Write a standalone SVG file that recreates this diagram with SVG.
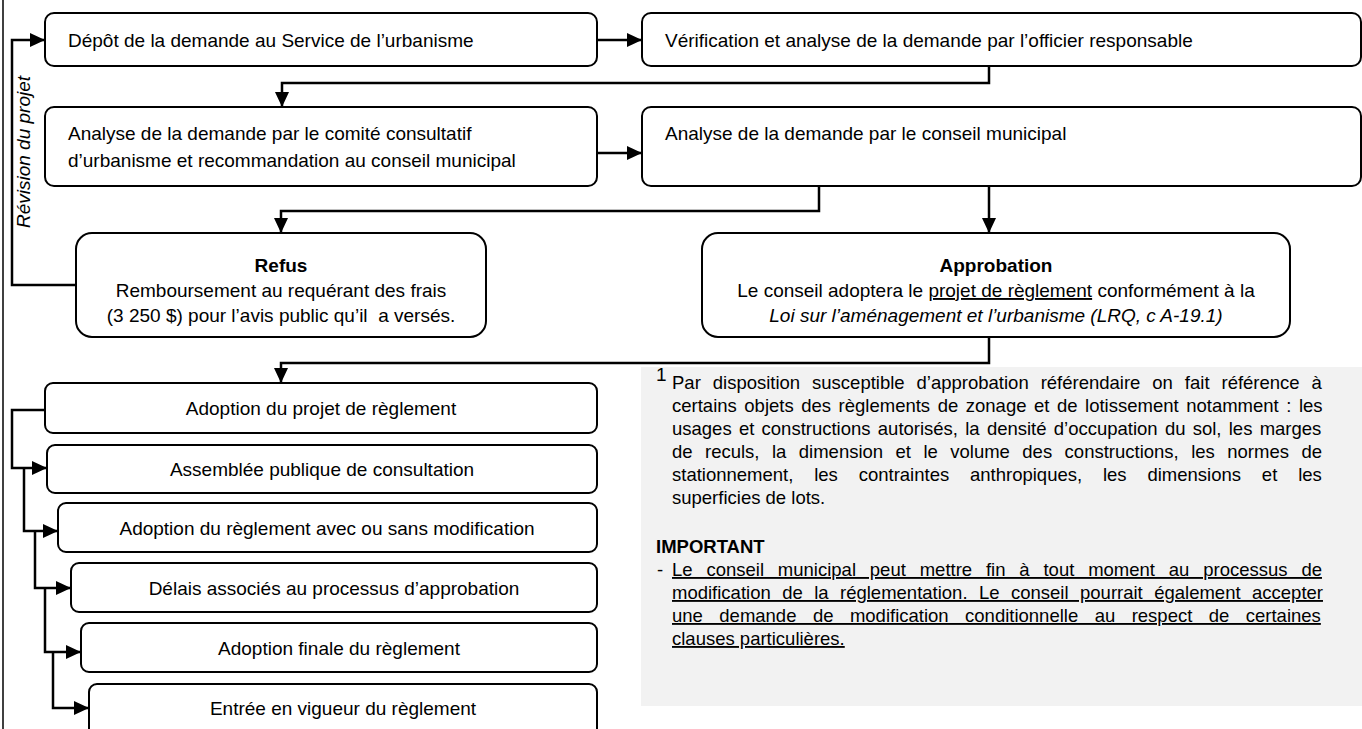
<svg xmlns="http://www.w3.org/2000/svg" width="1362" height="729" viewBox="0 0 1362 729">
<defs>
<style>
.box{fill:#fff;stroke:#000;stroke-width:2}
.ca{fill:none;stroke:#000;stroke-width:2.5;marker-end:url(#ah)}
text{font-family:"Liberation Sans",Arial,sans-serif;font-size:19px;fill:#000}
.m{text-anchor:middle}
.b{font-weight:bold}
.i{font-style:italic}
.fn{font-size:18.5px}
.u{text-decoration:underline}
</style>
<marker id="ah" markerUnits="userSpaceOnUse" markerWidth="16" markerHeight="16" viewBox="0 0 16 16" refX="15" refY="8" orient="auto">
<path d="M0,1 L15,8 L0,15 Z" fill="#000"/>
</marker>
</defs>
<rect width="1362" height="729" fill="#fff"/>
<line x1="3" y1="0" x2="3" y2="729" stroke="#000" stroke-width="1.5"/>
<rect x="641" y="367" width="721" height="339" fill="#f2f2f2"/>

<g id="connectors">
<path class="ca" d="M597,40 H642"/>
<path class="ca" d="M989,66 V83 H282 V107"/>
<path class="ca" d="M597,153 H642"/>
<path class="ca" d="M819,186 V211 H281 V233"/>
<path class="ca" d="M989,186 V233"/>
<path class="ca" d="M989,337 V363 H281 V383"/>
<path class="ca" d="M76,285 H12 V40 H45"/>
<path class="ca" d="M45,410 H12 V468 H47"/>
<path class="ca" d="M24,468 V531 H58"/>
<path class="ca" d="M35,531 V588 H71"/>
<path class="ca" d="M45,588 V652 H81"/>
<path class="ca" d="M53,652 V708 H89"/>
</g>
<text class="i" transform="translate(30,152) rotate(-90)" text-anchor="middle">Révision du projet</text>

<g id="n1"><rect class="box" x="45" y="13" width="552" height="53" rx="9"/>
<text x="68" y="47">Dépôt de la demande au Service de l’urbanisme</text></g>
<g id="n2"><rect class="box" x="642" y="13" width="719" height="53" rx="9"/>
<text x="665" y="47">Vérification et analyse de la demande par l’officier responsable</text></g>
<g id="n3"><rect class="box" x="45" y="107" width="552" height="79" rx="9"/>
<text x="68" y="140">Analyse de la demande par le comité consultatif</text>
<text x="68" y="167">d’urbanisme et recommandation au conseil municipal</text></g>
<g id="n4"><rect class="box" x="642" y="107" width="719" height="79" rx="9"/>
<text x="665" y="140">Analyse de la demande par le conseil municipal</text></g>
<g id="n5"><rect class="box" x="76" y="233" width="410" height="104" rx="16"/>
<text class="m b" x="281" y="272">Refus</text>
<text class="m" x="281" y="297">Remboursement au requérant des frais</text>
<text class="m" x="281" y="322" xml:space="preserve">(3 250 $) pour l’avis public qu’il  a versés.</text></g>
<g id="n6"><rect class="box" x="702" y="233" width="588" height="104" rx="16"/>
<text class="m b" x="996" y="272">Approbation</text>
<text class="m" x="996" y="297">Le conseil adoptera le <tspan class="u">projet de règlement</tspan> conformément à la</text>
<text class="m i" x="996" y="322">Loi sur l’aménagement et l’urbanisme (LRQ, c A-19.1)</text></g>
<g id="n7"><rect class="box" x="45" y="383" width="552" height="50" rx="8"/>
<text class="m" x="321" y="415">Adoption du projet de règlement</text></g>
<g id="n8"><rect class="box" x="47" y="445" width="550" height="48" rx="8"/>
<text class="m" x="322" y="476">Assemblée publique de consultation</text></g>
<g id="n9"><rect class="box" x="58" y="503" width="539" height="49" rx="8"/>
<text class="m" x="327" y="535">Adoption du règlement avec ou sans modification</text></g>
<g id="n10"><rect class="box" x="71" y="563" width="526" height="49" rx="8"/>
<text class="m" x="334" y="595">Délais associés au processus d’approbation</text></g>
<g id="n11"><rect class="box" x="81" y="623" width="516" height="49" rx="8"/>
<text class="m" x="339" y="655">Adoption finale du règlement</text></g>
<g id="n12"><rect class="box" x="89" y="684" width="508" height="60" rx="8"/>
<text class="m" x="343" y="715">Entrée en vigueur du règlement</text></g>

<g id="note">
<text x="656" y="381" font-size="11px">1</text>
<text class="fn" x="672" y="389" word-spacing="6.8">Par disposition susceptible d’approbation référendaire on fait référence à</text>
<text class="fn" x="672" y="412" word-spacing="2.4">certains objets des règlements de zonage et de lotissement notamment : les</text>
<text class="fn" x="672" y="435" word-spacing="2.1">usages et constructions autorisés, la densité d’occupation du sol, les marges</text>
<text class="fn" x="672" y="458" word-spacing="7.3">de reculs, la dimension et le volume des constructions, les normes de</text>
<text class="fn" x="672" y="481" word-spacing="15.7">stationnement, les contraintes anthropiques, les dimensions et les</text>
<text class="fn" x="672" y="504">superficies de lots.</text>
<text class="fn b" x="656" y="553">IMPORTANT</text>
<text class="fn" x="657" y="576">-</text>
<text class="fn u" x="672" y="576" word-spacing="8.7">Le conseil municipal peut mettre fin à tout moment au processus de</text>
<text class="fn u" x="672" y="599" word-spacing="6.3">modification de la réglementation. Le conseil pourrait également accepter</text>
<text class="fn u" x="672" y="622" word-spacing="11.3">une demande de modification conditionnelle au respect de certaines</text>
<text class="fn u" x="672" y="645">clauses particulières.</text>
</g>
</svg>
